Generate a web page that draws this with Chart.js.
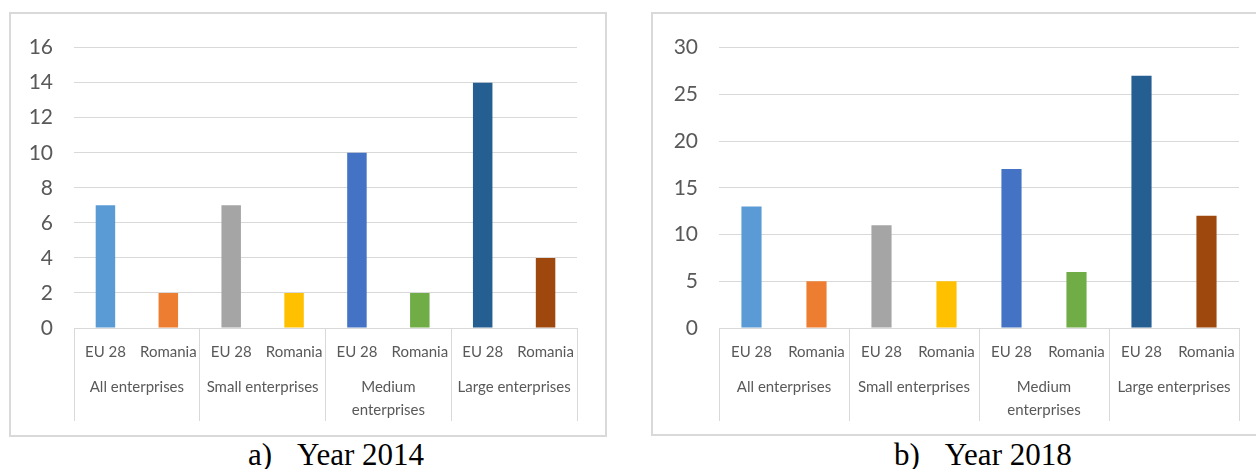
<!DOCTYPE html>
<html>
<head>
<meta charset="utf-8">
<title>Enterprises – EU 28 and Romania, 2014 and 2018</title>
<script src="https://cdn.jsdelivr.net/npm/chart.js@4.4.1/dist/chart.umd.min.js"></script>
<style>
  html, body { margin: 0; padding: 0; background: #fff; overflow: hidden; }
  body { width: 1256px; height: 469px; position: relative; }
  .frame { position: absolute; border: 2px solid #d9d9d9; box-sizing: border-box; }
  .frame canvas { position: absolute; left: 0; top: 0; }
  .caption {
    position: absolute; top: 439px; white-space: nowrap; color: #000;
    font-family: "Liberation Serif", "Times New Roman", serif; font-size: 31px; line-height: 31px;
  }
  .caption span { margin-left: 25px; }
</style>
</head>
<body>
  <div class="frame" style="left:9px; top:12px; width:598px; height:425px;">
    <canvas id="chart2014" width="594" height="421"></canvas>
  </div>
  <div class="frame" style="left:651px; top:12px; width:620px; height:424px;">
    <canvas id="chart2018" width="603" height="420"></canvas>
  </div>
  <div class="caption" style="left:248px;">a)<span>Year 2014</span></div>
  <div class="caption" style="left:894px;">b)<span>Year 2018</span></div>

<script>
// categories
const groupLabels = ['All enterprises', 'Small enterprises', ['Medium', 'enterprises'], 'Large enterprises'];
const seriesLabels = ['EU 28', 'Romania'];

// values per bar, in the order EU 28 / Romania for each group
const values2014 = [7, 2, 7, 2, 10, 2, 14, 4];
const values2018 = [13, 5, 11, 5, 17, 6, 27, 12];

// value axis ticks
const yMax2014 = 16;
const yStep2014 = 2;
const yMax2018 = 30;
const yStep2018 = 5;

const barColors = ['#5b9bd5', '#ed7d31', '#a5a5a5', '#ffc000', '#4472c4', '#70ad47', '#255e91', '#9e480e'];
const gridColor = '#d9d9d9';
const textColor = '#595959';

Chart.defaults.font.family = 'Lato, "Open Sans", sans-serif';

function buildChart(canvasId, values, yMax, yStep, layout) {
    const barLabels = groupLabels.flatMap(() => seriesLabels);
    const ctx = document.getElementById(canvasId).getContext('2d');

    return new Chart(ctx, {
        type: 'bar',
        data: {
            labels: barLabels,
            datasets: [{
                data: values,
                backgroundColor: barColors,
                borderWidth: 0,
                barPercentage: 0.31,
                categoryPercentage: 1
            }]
        },
        options: {
            responsive: false,
            animation: false,
            layout: { padding: { left: 0, top: 31, right: layout.padRight, bottom: layout.padBottom } },
            plugins: { legend: { display: false }, tooltip: { enabled: false } },
            scales: {
                y: {
                    min: 0,
                    max: yMax,
                    ticks: { stepSize: yStep, padding: 21, color: textColor, font: { size: 21 } },
                    grid: { color: gridColor, lineWidth: 1, drawTicks: false },
                    border: { display: false },
                    afterFit: scale => { scale.width = layout.axisWidth; }
                },
                x: {
                    offset: true,
                    // separators between groups run down through both label rows
                    grid: {
                        offset: true,
                        drawOnChartArea: false,
                        drawTicks: true,
                        tickLength: 93,
                        lineWidth: 1,
                        color: c => (c.type === 'scale' || c.index % 2 === 0) ? gridColor : 'rgba(0,0,0,0)'
                    },
                    border: { display: true, color: gridColor, width: 1 },
                    ticks: {
                        autoSkip: false, maxRotation: 0, minRotation: 0,
                        padding: -78, color: textColor, font: { size: 15 }
                    },
                    afterFit: scale => { scale.height = 48; }
                },
                x2: {
                    type: 'category',
                    position: 'bottom',
                    labels: groupLabels,
                    offset: true,
                    grid: { display: false, drawTicks: false },
                    border: { display: false },
                    ticks: {
                        autoSkip: false, maxRotation: 0, minRotation: 0,
                        padding: 0, color: textColor, font: { size: 15, lineHeight: 1.5 }
                    },
                    afterFit: scale => { scale.height = 50; }
                }
            }
        }
    });
}

document.addEventListener('DOMContentLoaded', () => {
    buildChart('chart2014', values2014, yMax2014, yStep2014, { axisWidth: 63, padRight: 28, padBottom: 421 - 314 - 98 });
    buildChart('chart2018', values2018, yMax2018, yStep2018, { axisWidth: 66, padRight: 17, padBottom: 420 - 314 - 98 });
});
</script>
</body>
</html>
